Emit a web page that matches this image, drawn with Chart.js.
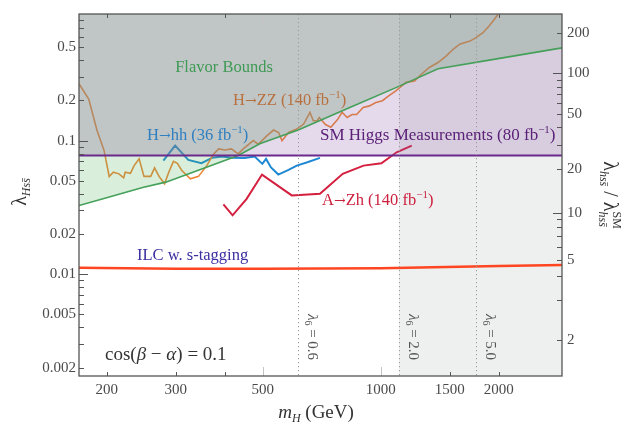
<!DOCTYPE html>
<html>
<head>
<meta charset="utf-8">
<script src="https://cdn.jsdelivr.net/npm/chart.js@4"></script>
<style>
  html, body { margin: 0; padding: 0; background: #fff; }
  #wrap { width: 623px; height: 427px; }
</style>
</head>
<body>
<div id="wrap"><canvas id="chart" width="623" height="427"></canvas></div>
<script>
// ---- data (mH in GeV, lambda_Hss) ----
const flavorMass = [170, 202, 247, 283, 351, 433, 493, 616, 834, 1120, 1400, 2010, 2900];
const flavorLam  = [0.0327, 0.0377, 0.0446, 0.0489, 0.0615, 0.0773, 0.095, 0.120, 0.177, 0.257, 0.345, 0.413, 0.495];

const smHiggsMass = [170, 2900];
const smHiggsLam  = [0.0773, 0.0773];

const zzMass = [170, 180, 189, 197, 203, 208, 215, 221, 223, 230, 235, 242, 249, 259, 265, 272, 281, 288, 296, 303,
                311, 327, 343, 360, 375, 386, 401, 416, 433, 446, 473, 487, 513, 533, 549, 560, 582, 611, 636, 660,
                673, 689, 697, 723, 746, 775, 797, 821, 845, 868, 902, 936, 972, 1010, 1050, 1093, 1160, 1220, 1270, 1330,
                1400, 1470, 1530, 1590, 1690, 1750, 1820, 1890, 1950, 1990];
const zzLam  = [0.267, 0.205, 0.119, 0.0842, 0.0539, 0.058, 0.0564, 0.0527, 0.058, 0.057, 0.065, 0.073, 0.054, 0.054, 0.0626, 0.054, 0.0475, 0.058, 0.070, 0.0677,
                0.0597, 0.0518, 0.054, 0.065, 0.0795, 0.0867, 0.0852, 0.0867, 0.0795, 0.0867, 0.1, 0.094, 0.109, 0.120, 0.115, 0.1, 0.115, 0.122, 0.133, 0.163,
                0.141, 0.141, 0.149, 0.132, 0.126, 0.143, 0.163, 0.149, 0.157, 0.157, 0.177, 0.182, 0.193, 0.199, 0.217, 0.236, 0.273, 0.28, 0.314, 0.353,
                0.384, 0.431, 0.483, 0.527, 0.556, 0.59, 0.64, 0.72, 0.81, 0.88];

const hhMass = [279, 299, 323, 349, 371, 394, 416, 450, 477, 499, 510, 525, 548, 582, 611, 650, 700];
const hhLam  = [0.0709, 0.0918, 0.0718, 0.0677, 0.0743, 0.076, 0.0743, 0.074, 0.076, 0.067, 0.073, 0.063, 0.0557, 0.0604, 0.065, 0.0689, 0.0743];

const zhMass = [397, 419, 455, 498, 593, 700, 800, 904, 1004, 1098, 1200];
const zhLam  = [0.0333, 0.0276, 0.0367, 0.0557, 0.0389, 0.040, 0.0564, 0.065, 0.0677, 0.0818, 0.0918];

const ilcMass = [170, 300, 500, 1000, 2000, 2900];
const ilcLam  = [0.0112, 0.0110, 0.0110, 0.0111, 0.0115, 0.0117];

// lambda_6 benchmark lines
const lambda6Mass   = [616, 1113, 1748];
const lambda6Labels = ['0.6', '2.0', '5.0'];

// axes
const xMin = 170, xMax = 2900;
const yMin = 0.00173, yMax = 0.887;
const xTickValues = [200, 300, 500, 1000, 1500, 2000];
const xTickLabels = ['200', '300', '500', '1000', '1500', '2000'];
const yTickValues = [0.002, 0.005, 0.01, 0.02, 0.05, 0.1, 0.2, 0.5];
const yTickLabels = ['0.002', '0.005', '0.01', '0.02', '0.05', '0.1', '0.2', '0.5'];
const rightTickLabels = [2, 5, 10, 20, 50, 100, 200];
const rightMinor = [3, 4, 6, 7, 8, 9, 30, 40, 60, 70, 80, 90];
const ratioToLam = r => (r - 1) / 311;   // right axis lambda_hss/lambda_hss^SM vs left axis

const SERIF = "'Liberation Serif', 'DejaVu Serif', serif";
const toPts = (xs, ys) => xs.map((x, i) => ({ x: x, y: ys[i] }));

// grey region: above both flavour bound and SM Higgs line
const smLevel = smHiggsLam[0];
const envelope = flavorMass.map((m, i) => ({ x: m, y: Math.max(flavorLam[i], smLevel) }));

function fontOf(p) {
  return (p.italic ? 'italic ' : '') + p.size + 'px ' + (p.family || SERIF);
}

function drawRich(ctx, x, y, parts, color, align) {
  let w = 0;
  parts.forEach(p => {
    ctx.font = fontOf(p);
    p.w = ctx.measureText(p.t).width;
    w += p.w;
  });
  let cx = align === 'center' ? x - w / 2 : x;
  ctx.fillStyle = color;
  ctx.textBaseline = 'alphabetic';
  ctx.textAlign = 'left';
  parts.forEach(p => {
    ctx.font = fontOf(p);
    ctx.fillText(p.t, cx, y + (p.dy || 0));
    cx += p.w;
  });
}

// "X→YY (n fb^-1)"
const fbParts = (a, b, num, size) => [
  { t: a, size: size },
  { t: '\u2192', size: 14, family: "'DejaVu Serif', serif", dy: -0.5 },
  { t: b + ' (' + num + ' fb', size: size },
  { t: '\u22121', size: 11, dy: -7 },
  { t: ')', size: size }
];

const decor = {
  id: 'decor',
  beforeDatasetsDraw(chart) {
    const { ctx, chartArea: a, scales: { x } } = chart;
    const x0 = x.getPixelForValue(lambda6Mass[1]);
    ctx.save();
    ctx.fillStyle = '#eeefef';
    ctx.fillRect(x0, a.top, a.right - x0, a.bottom - a.top);
    ctx.restore();
  },
  afterDatasetsDraw(chart) {
    const { ctx, chartArea: a, scales: { x } } = chart;
    ctx.save();
    // dotted lambda_6 lines
    ctx.strokeStyle = '#9a9a9a';
    ctx.lineWidth = 1;
    ctx.setLineDash([1.2, 2.8]);
    lambda6Mass.forEach((m, i) => {
      const px = Math.round(x.getPixelForValue(m)) + 0.5;
      ctx.beginPath();
      ctx.moveTo(px, a.top);
      ctx.lineTo(px, a.bottom);
      ctx.stroke();
      ctx.save();
      ctx.translate(px + 9, 337);
      ctx.rotate(Math.PI / 2);
      drawRich(ctx, 0, 0, [
        { t: '\u03bb', size: 15, italic: true },
        { t: '6', size: 10, dy: 3 },
        { t: ' = ' + lambda6Labels[i], size: 15 }
      ], '#555', 'center');
      ctx.restore();
    });
    ctx.setLineDash([]);

    // annotations
    drawRich(ctx, 224, 72, [{ t: 'Flavor Bounds', size: 16.5 }], '#3f9a55', 'center');
    drawRich(ctx, 233, 105, fbParts('H', 'ZZ', '140', 16.5), '#b8703f', 'left');
    drawRich(ctx, 147, 140, fbParts('H', 'hh', '36', 16.5), '#2f7fc0', 'left');
    drawRich(ctx, 320, 140, [
      { t: 'SM Higgs Measurements (80 fb', size: 17 },
      { t: '\u22121', size: 11, dy: -7 },
      { t: ')', size: 17 }
    ], '#5b2078', 'left');
    drawRich(ctx, 322, 205, fbParts('A', 'Zh', '140', 16.5), '#cc1f3d', 'left');
    drawRich(ctx, 137, 260, [{ t: 'ILC w. s-tagging', size: 16.5 }], '#3a2fa0', 'left');
    drawRich(ctx, 105, 360, [
      { t: 'cos(', size: 19 }, { t: '\u03b2', size: 19, italic: true },
      { t: ' \u2212 ', size: 19 }, { t: '\u03b1', size: 19, italic: true },
      { t: ') = 0.1', size: 19 }
    ], '#333', 'left');
    ctx.restore();
  },
  afterDraw(chart) {
    const { ctx, chartArea: a, scales: { x, y, y2 } } = chart;
    ctx.save();
    ctx.strokeStyle = '#555';
    ctx.lineWidth = 1;
    // left axis ticks
    for (const d of [0.001, 0.01, 0.1]) {
      for (let k = 1; k <= 9; k++) {
        const v = k * d;
        if (v < yMin || v > yMax) continue;
        const py = Math.round(y.getPixelForValue(v)) + 0.5;
        const len = k === 1 ? 9 : 5;
        ctx.beginPath(); ctx.moveTo(a.left, py); ctx.lineTo(a.left + len, py); ctx.stroke();
      }
    }
    // right axis ticks
    rightTickLabels.concat(rightMinor).forEach(r => {
      const py = Math.round(y2.getPixelForValue(ratioToLam(r))) + 0.5;
      const len = (r === 10 || r === 100) ? 9 : 5;
      ctx.beginPath(); ctx.moveTo(a.right, py); ctx.lineTo(a.right - len, py); ctx.stroke();
    });
    // bottom / top ticks
    const dark = [200, 300, 400, 1500, 2000];
    const darkTop = [200, 400, 1500, 2000];
    const light = [500, 1000];
    dark.forEach(m => {
      const px = Math.round(x.getPixelForValue(m)) + 0.5;
      ctx.beginPath(); ctx.moveTo(px, a.bottom); ctx.lineTo(px, a.bottom - 4); ctx.stroke();
    });
    darkTop.forEach(m => {
      const px = Math.round(x.getPixelForValue(m)) + 0.5;
      ctx.beginPath(); ctx.moveTo(px, a.top); ctx.lineTo(px, a.top + 4); ctx.stroke();
    });
    ctx.strokeStyle = '#c4c4c4';
    light.forEach(m => {
      const px = Math.round(x.getPixelForValue(m)) + 0.5;
      ctx.beginPath(); ctx.moveTo(px, a.bottom); ctx.lineTo(px, a.bottom - 9); ctx.stroke();
      ctx.beginPath(); ctx.moveTo(px, a.top); ctx.lineTo(px, a.top + 9); ctx.stroke();
    });
    // frame
    ctx.strokeStyle = '#555';
    ctx.lineWidth = 1.3;
    ctx.strokeRect(a.left, a.top, a.right - a.left, a.bottom - a.top);

    // axis titles
    drawRich(ctx, 316, 418, [
      { t: 'm', size: 19, italic: true },
      { t: 'H', size: 12, italic: true, dy: 4 },
      { t: ' (GeV)', size: 19 }
    ], '#333', 'center');

    ctx.save();
    ctx.translate(26, 192);
    ctx.rotate(-Math.PI / 2);
    drawRich(ctx, 0, 0, [
      { t: '\u03bb', size: 20 },
      { t: 'Hss\u0304', size: 12, italic: true, dy: 4 }
    ], '#333', 'center');
    ctx.restore();

    ctx.save();
    ctx.translate(604, 194);
    ctx.rotate(Math.PI / 2);
    drawRich(ctx, 0, 0, [
      { t: '\u03bb', size: 20 },
      { t: 'hss\u0304', size: 12, italic: true, dy: 4 },
      { t: ' / ', size: 20 },
      { t: '\u03bb', size: 20 },
      { t: 'hss\u0304', size: 12, italic: true, dy: 5 }
    ], '#333', 'center');
    // SM superscript above the last subscript
    ctx.font = '20px ' + SERIF;
    const wA = ctx.measureText('\u03bb').width;
    const wSl = ctx.measureText(' / ').width;
    ctx.font = 'italic 12px ' + SERIF;
    const wS = ctx.measureText('hss\u0304').width;
    const total = 2 * wA + wSl + 2 * wS;
    ctx.font = '12px ' + SERIF;
    ctx.fillStyle = '#333';
    ctx.fillText('SM', -total / 2 + 2 * wA + wSl + wS, -9);
    ctx.restore();

    ctx.restore();
  }
};

const logAxis = {
  type: 'logarithmic',
  grid: { display: false, drawTicks: false },
  border: { display: false }
};

new Chart(document.getElementById('chart').getContext('2d'), {
  type: 'line',
  data: {
    datasets: [
      { label: 'H->ZZ', data: toPts(zzMass, zzLam), borderColor: '#ee8636', borderWidth: 1.6, fill: false, order: 10 },
      { label: 'H->hh', data: toPts(hhMass, hhLam), borderColor: '#1f88d2', borderWidth: 2, fill: false, order: 10 },
      { label: 'A->Zh', data: toPts(zhMass, zhLam), borderColor: '#d41f3e', borderWidth: 2, fill: false, order: 10 },
      { label: 'ILC', data: toPts(ilcMass, ilcLam), borderColor: '#ff4622', borderWidth: 2.5, fill: false, order: 10 },
      { label: 'excluded', data: envelope, borderWidth: 0, borderColor: 'rgba(0,0,0,0)',
        backgroundColor: 'rgba(124,136,136,0.48)', fill: 'end', order: 5 },
      { label: 'Flavor', data: toPts(flavorMass, flavorLam), borderColor: '#45a05a', borderWidth: 1.6,
        fill: { target: 6, above: 'rgba(135,85,165,0.22)', below: 'rgba(80,180,95,0.22)' }, order: 4 },
      { label: 'SM Higgs', data: toPts(smHiggsMass, smHiggsLam), borderColor: '#6b2a8c', borderWidth: 2, fill: false, order: 3 }
    ]
  },
  options: {
    responsive: false,
    animation: false,
    events: [],
    layout: { padding: { top: 13, left: 0, right: 0, bottom: 0 } },
    elements: { point: { radius: 0 }, line: { tension: 0 } },
    plugins: { legend: { display: false }, tooltip: { enabled: false } },
    scales: {
      x: Object.assign({}, logAxis, {
        min: xMin, max: xMax,
        ticks: { font: { family: SERIF, size: 15 }, color: '#4a4a4a', padding: 5, autoSkip: false, maxRotation: 0,
                 callback: (v, i) => xTickLabels[i] },
        afterBuildTicks: s => { s.ticks = xTickValues.map(v => ({ value: v })); },
        afterFit: s => { s.height = 51; }
      }),
      y: Object.assign({}, logAxis, {
        position: 'left', min: yMin, max: yMax,
        ticks: { font: { family: SERIF, size: 15 }, color: '#4a4a4a', padding: 3, autoSkip: false,
                 callback: (v, i) => yTickLabels[i] },
        afterBuildTicks: s => { s.ticks = yTickValues.map(v => ({ value: v })); },
        afterFit: s => { s.width = 79; }
      }),
      y2: Object.assign({}, logAxis, {
        position: 'right', min: yMin, max: yMax,
        ticks: { font: { family: SERIF, size: 15 }, color: '#4a4a4a', padding: 5, autoSkip: false,
                 callback: (v, i) => String(rightTickLabels[i]) },
        afterBuildTicks: s => { s.ticks = rightTickLabels.map(r => ({ value: ratioToLam(r) })); },
        afterFit: s => { s.width = 61; }
      })
    }
  },
  plugins: [decor]
});
</script>
</body>
</html>
